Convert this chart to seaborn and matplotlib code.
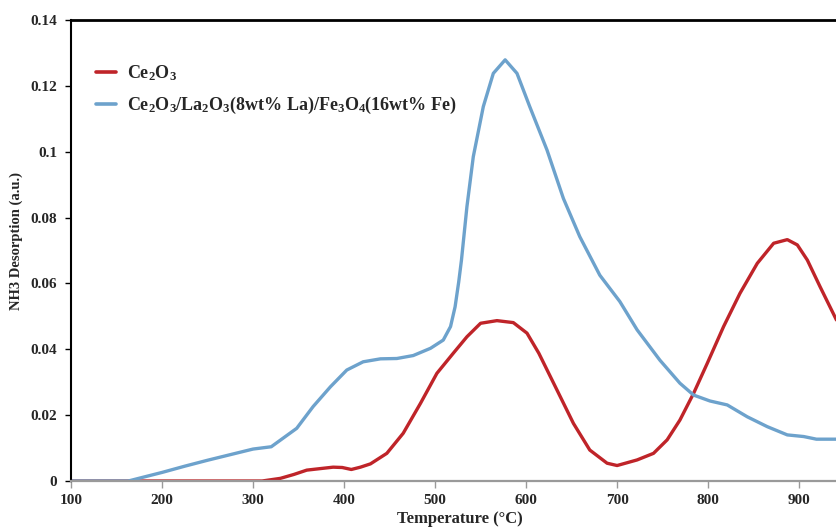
import numpy as np
import pandas as pd
import matplotlib
matplotlib.use("Agg")
import matplotlib.pyplot as plt
import seaborn as sns

# NH3-TPD profile of Ce2O3
temp_ce = [100, 200, 300, 310, 320, 330, 345, 359, 375, 388, 398, 408, 418, 429, 447,
           465, 484, 502, 520, 535, 550, 568, 586, 601, 614, 634, 652, 670, 689, 700,
           722, 740, 755, 769, 784, 799, 817, 835, 854, 872, 887, 898, 909, 923, 941]
nh3_ce = [0.0, 0.0, 0.0, 0.0, 0.0004, 0.0008, 0.002, 0.0033, 0.0038, 0.0042, 0.0041,
          0.0035, 0.0042, 0.0052, 0.0084, 0.0145, 0.0236, 0.0327, 0.0388, 0.0438,
          0.0479, 0.0487, 0.0481, 0.0449, 0.0388, 0.0276, 0.0175, 0.0094, 0.0054,
          0.0047, 0.0064, 0.0084, 0.0125, 0.0185, 0.0266, 0.0357, 0.0469, 0.057,
          0.0661, 0.0722, 0.0733, 0.0717, 0.0671, 0.059, 0.0489]

# NH3-TPD profile of the La/Fe-promoted catalyst
temp_cat = [100, 163, 180, 200, 225, 250, 275, 300, 320, 330, 348, 366, 385, 403, 421,
            440, 458, 476, 495, 509, 517, 522, 526, 529, 535, 542, 553, 564, 577, 590,
            604, 623, 641, 659, 681, 703, 722, 747, 769, 784, 802, 821, 843, 865, 887,
            905, 919, 941]
nh3_cat = [0.0, 0.0, 0.0012, 0.0026, 0.0045, 0.0063, 0.008, 0.0097, 0.0104, 0.0124,
           0.016, 0.0226, 0.0286, 0.0337, 0.0362, 0.0371, 0.0372, 0.0381, 0.0403,
           0.0428, 0.0469, 0.0529, 0.0605, 0.0671, 0.0833, 0.0985, 0.1137, 0.1238,
           0.1279, 0.1238, 0.1137, 0.1005, 0.0858, 0.0742, 0.0625, 0.0545, 0.0459,
           0.0367, 0.0297, 0.0261, 0.0243, 0.0231, 0.0195, 0.0165, 0.014, 0.0135,
           0.0127, 0.0127]

labels = ["Ce$_2$O$_3$", "Ce$_2$O$_3$/La$_2$O$_3$(8wt% La)/Fe$_3$O$_4$(16wt% Fe)"]
colors = ["#bf2429", "#6da2cc"]

y_ticks = [0, 0.02, 0.04, 0.06, 0.08, 0.1, 0.12, 0.14]
y_tick_labels = ["0", "0.02", "0.04", "0.06", "0.08", "0.1", "0.12", "0.14"]
x_ticks = [100, 200, 300, 400, 500, 600, 700, 800, 900]

sns.set_style("white")
plt.rcParams["font.family"] = ["Liberation Serif", "DejaVu Serif"]
plt.rcParams["font.weight"] = "bold"
plt.rcParams["mathtext.default"] = "regular"

df = pd.concat([
    pd.DataFrame({"T": temp_ce, "v": nh3_ce, "s": labels[0]}),
    pd.DataFrame({"T": temp_cat, "v": nh3_cat, "s": labels[1]}),
])

fig = plt.figure(figsize=(8.36, 5.29), dpi=100)
ax = fig.add_axes([71 / 836, 1 - 481 / 529, 1 - 71 / 836, (481 - 20) / 529])

sns.lineplot(data=df, x="T", y="v", hue="s", palette=colors, hue_order=labels,
             linewidth=2.4, ax=ax, estimator=None, sort=False,
             solid_joinstyle="round", solid_capstyle="round")

ax.set_xlim(100, 940.5)
ax.set_ylim(0, 0.14)
ax.set_yticks(y_ticks)
ax.set_yticklabels(y_tick_labels)
ax.set_xticks(x_ticks)
for lab in ax.get_xticklabels() + ax.get_yticklabels():
    lab.set_fontweight("bold")
    lab.set_fontsize(11)

ax.spines["right"].set_visible(False)
ax.spines["top"].set_color("black")
ax.spines["top"].set_linewidth(2.0)
ax.spines["left"].set_color("black")
ax.spines["left"].set_linewidth(1.5)
ax.spines["bottom"].set_color("#9a9a9a")
ax.spines["bottom"].set_linewidth(1.6)
ax.tick_params(axis="y", direction="out", length=4, width=1, color="black", pad=6, left=True)
ax.tick_params(axis="x", direction="out", length=5, width=1, color="#9a9a9a", pad=4, bottom=True)

ax.set_xlabel("Temperature (°C)", fontsize=12, fontweight="bold")
ax.xaxis.label.set_va("center")
ax.xaxis.set_label_coords((460 - 71) / (836 - 71), -0.083)
ax.set_ylabel("NH3 Desorption (a.u.)", fontsize=10.5, fontweight="bold")
ax.yaxis.label.set_va("center")
ax.yaxis.set_label_coords(-(71 - 16) / (836 - 71), 0.52)

leg = ax.legend(loc="upper left", bbox_to_anchor=(0.012, 0.942), frameon=False,
                handlelength=1.1, handletextpad=0.6, labelspacing=0.68,
                prop={"weight": "bold", "size": 13})
for line in leg.get_lines():
    line.set_linewidth(2.6)

fig.savefig("out.png", dpi=100)
